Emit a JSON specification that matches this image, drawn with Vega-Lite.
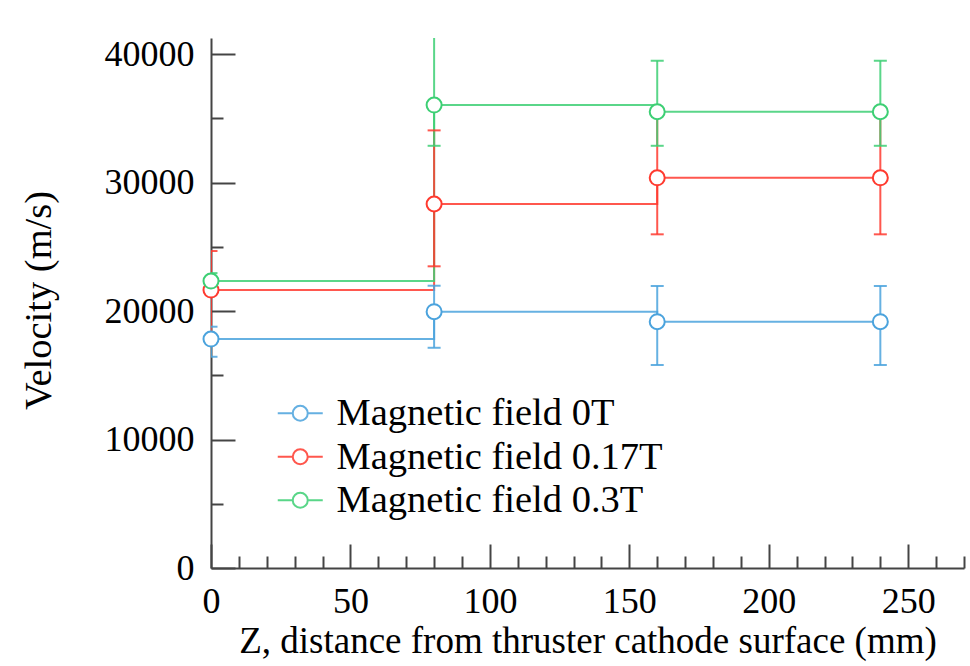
{
  "$schema": "https://vega.github.io/schema/vega-lite/v6.json",
  "width": 753,
  "height": 530,
  "autosize": "none",
  "padding": {"left": 211, "top": 38, "right": 6, "bottom": 98},
  "background": "white",
  "config": {
    "view": {"stroke": null},
    "font": "Liberation Serif",
    "axis": {"grid": false, "labelFont": "Liberation Serif", "titleFont": "Liberation Serif", "labelColor": "#000", "titleColor": "#000", "titleFontWeight": "normal", "domainColor": "#444", "domainWidth": 2, "tickColor": "#444", "tickWidth": 2, "labelFlush": false, "labelOverlap": false}
  },
  "data": {
    "values": [
      {"series": "Magnetic field 0T", "z": 0, "v": 17820, "lo": 16440, "hi": 18780},
      {"series": "Magnetic field 0T", "z": 80, "v": 19950, "lo": 17140, "hi": 21970},
      {"series": "Magnetic field 0T", "z": 160, "v": 19170, "lo": 15800, "hi": 21950},
      {"series": "Magnetic field 0T", "z": 240, "v": 19170, "lo": 15800, "hi": 21950},
      {"series": "Magnetic field 0.17T", "z": 0, "v": 21630, "lo": 17560, "hi": 24670},
      {"series": "Magnetic field 0.17T", "z": 80, "v": 28330, "lo": 23480, "hi": 34060},
      {"series": "Magnetic field 0.17T", "z": 160, "v": 30370, "lo": 25970, "hi": 35300},
      {"series": "Magnetic field 0.17T", "z": 240, "v": 30370, "lo": 25970, "hi": 35300},
      {"series": "Magnetic field 0.3T", "z": 0, "v": 22330, "lo": 21500, "hi": 22950},
      {"series": "Magnetic field 0.3T", "z": 80, "v": 36030, "lo": 32860, "hi": 42500},
      {"series": "Magnetic field 0.3T", "z": 160, "v": 35510, "lo": 32860, "hi": 39480},
      {"series": "Magnetic field 0.3T", "z": 240, "v": 35510, "lo": 32860, "hi": 39480}
    ]
  },
  "encoding": {
    "x": {
      "field": "z", "type": "quantitative",
      "scale": {"domain": [0, 270], "nice": false, "zero": false},
      "axis": {
        "title": "Z, distance from thruster cathode surface (mm)",
        "titleFontSize": 37, "titleY": 84, "titleBaseline": "alphabetic",
        "labelFontSize": 36, "labelPadding": 40,
        "values": [0,10,20,30,40,50,60,70,80,90,100,110,120,130,140,150,160,170,180,190,200,210,220,230,240,250,260,270],
        "labelExpr": "datum.value % 50 === 0 ? datum.label : ''",
        "tickSize": {"condition": {"test": "datum.value % 50 === 0", "value": -24}, "value": -12}
      }
    },
    "y": {
      "field": "v", "type": "quantitative",
      "scale": {"domain": [0, 41250], "nice": false},
      "axis": {
        "title": "Velocity (m/s)",
        "titleFontSize": 38.5, "titleX": -173, "titleY": 262, "titleAngle": -90, "titleBaseline": "middle", "titleAlign": "center",
        "labelFontSize": 36, "labelPadding": 41,
        "values": [0,5000,10000,15000,20000,25000,30000,35000,40000],
        "labelExpr": "datum.value % 10000 === 0 ? datum.label : ''",
        "format": "d",
        "tickSize": {"condition": {"test": "datum.value % 10000 === 0", "value": -24}, "value": -12}
      }
    },
    "color": {
      "field": "series", "type": "nominal",
      "scale": {"domain": ["Magnetic field 0T", "Magnetic field 0.17T", "Magnetic field 0.3T"], "range": ["#4ba3dd", "#ff3a2f", "#3dcf74"]},
      "legend": {
        "title": null, "orient": "none", "legendX": 70, "legendY": 356,
        "symbolType": "M-1.5,0H-0.5M0.5,0H1.5M0.5,0A0.5,0.5,0,1,1,-0.5,0A0.5,0.5,0,1,1,0.5,0Z",
        "symbolSize": 900, "symbolStrokeWidth": 2, "symbolFillColor": "white",
        "labelFont": "Liberation Serif", "labelFontSize": 38.5, "labelColor": "#000", "labelOffset": 17,
        "padding": 0, "rowPadding": 4.5, "labelLimit": 600,
        "encode": {
          "symbols": {
            "update": {
              "fill": {"value": "white"},
              "fillOpacity": {"value": 1},
              "opacity": {"value": 1},
              "strokeWidth": {"value": 2},
              "stroke": {"scale": "color", "field": "value"}
            }
          }
        }
      }
    }
  },
  "layer": [
    {"mark": {"type": "line", "interpolate": "step-after", "strokeWidth": 2, "opacity": 0.85}},
    {"mark": {"type": "rule", "strokeWidth": 2, "clip": true, "opacity": 0.85}, "encoding": {"y": {"field": "lo", "type": "quantitative"}, "y2": {"field": "hi"}}},
    {"mark": {"type": "rule", "strokeWidth": 2, "opacity": 0.85, "clip": true, "xOffset": -6.5, "x2Offset": 6.5}, "encoding": {"x2": {"field": "z"}, "y": {"field": "lo", "type": "quantitative"}}},
    {"mark": {"type": "rule", "strokeWidth": 2, "opacity": 0.85, "clip": true, "xOffset": -6.5, "x2Offset": 6.5}, "encoding": {"x2": {"field": "z"}, "y": {"field": "hi", "type": "quantitative"}}},
    {"mark": {"type": "point", "size": 225, "filled": false, "fill": "white", "fillOpacity": 1, "strokeWidth": 2, "opacity": 1}}
  ]
}
